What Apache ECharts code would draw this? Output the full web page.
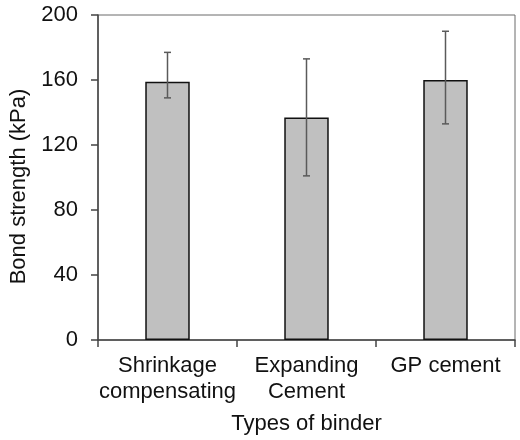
<!DOCTYPE html>
<html><head><meta charset="utf-8">
<script src="https://cdn.jsdelivr.net/npm/echarts@6/dist/echarts.min.js"></script>
<style>html,body{margin:0;padding:0;background:#fff}#c{width:520px;height:440px}</style>
</head><body><div id="c"></div>
<script>
const categories = ['Shrinkage\ncompensating', 'Expanding\nCement', 'GP cement'];
const values = [159, 137, 160];
const errLow = [149, 101, 133];
const errHigh = [177, 173, 190];
const yTicks = [0, 40, 80, 120, 160, 200];

const font = 'Liberation Sans, Arial, sans-serif';
const chart = echarts.init(document.getElementById('c'));
chart.setOption({
  animation: false,
  grid: { left: 98, right: 5, top: 15, bottom: 100, show: true, borderColor: '#6a6a6a', borderWidth: 1 },
  xAxis: {
    type: 'category', data: categories,
    name: 'Types of binder', nameLocation: 'middle', nameGap: 73,
    nameTextStyle: { fontFamily: font, fontSize: 22, color: '#111' },
    axisLine: { lineStyle: { color: '#444', width: 1.5 } },
    axisTick: { show: true, length: 7, lineStyle: { color: '#444', width: 1.5 } },
    axisLabel: { fontFamily: font, fontSize: 22, color: '#111', lineHeight: 26, margin: 13, interval: 0 }
  },
  yAxis: {
    type: 'value', min: 0, max: 200, interval: 40,
    name: 'Bond strength (kPa)', nameLocation: 'middle', nameGap: 60,
    nameTextStyle: { fontFamily: font, fontSize: 22, color: '#111', padding: [0, 18, 0, 0] },
    axisLine: { show: true, lineStyle: { color: '#444', width: 1.5 } },
    axisTick: { show: true, length: 7, lineStyle: { color: '#444', width: 1.5 } },
    splitLine: { show: false },
    axisLabel: { fontFamily: font, fontSize: 22, color: '#111', margin: 20,
      formatter: v => yTicks.includes(v) ? String(v) : '' }
  },
  series: [
    {
      type: 'bar', data: values, barWidth: '32%',
      itemStyle: { color: '#c0c0c0', borderColor: '#111', borderWidth: 1.5 }
    },
    {
      type: 'custom', z: 5,
      data: categories.map((c, i) => [i, errLow[i], errHigh[i]]),
      renderItem: function (params, api) {
        const lo = api.coord([api.value(0), api.value(1)]);
        const hi = api.coord([api.value(0), api.value(2)]);
        const hw = 3.5;
        const st = { stroke: '#5a5a5a', lineWidth: 1.5 };
        return { type: 'group', children: [
          { type: 'line', shape: { x1: lo[0], y1: lo[1], x2: hi[0], y2: hi[1] }, style: st },
          { type: 'line', shape: { x1: lo[0]-hw, y1: lo[1], x2: lo[0]+hw, y2: lo[1] }, style: st },
          { type: 'line', shape: { x1: hi[0]-hw, y1: hi[1], x2: hi[0]+hw, y2: hi[1] }, style: st }
        ]};
      }
    }
  ]
});
</script></body></html>
